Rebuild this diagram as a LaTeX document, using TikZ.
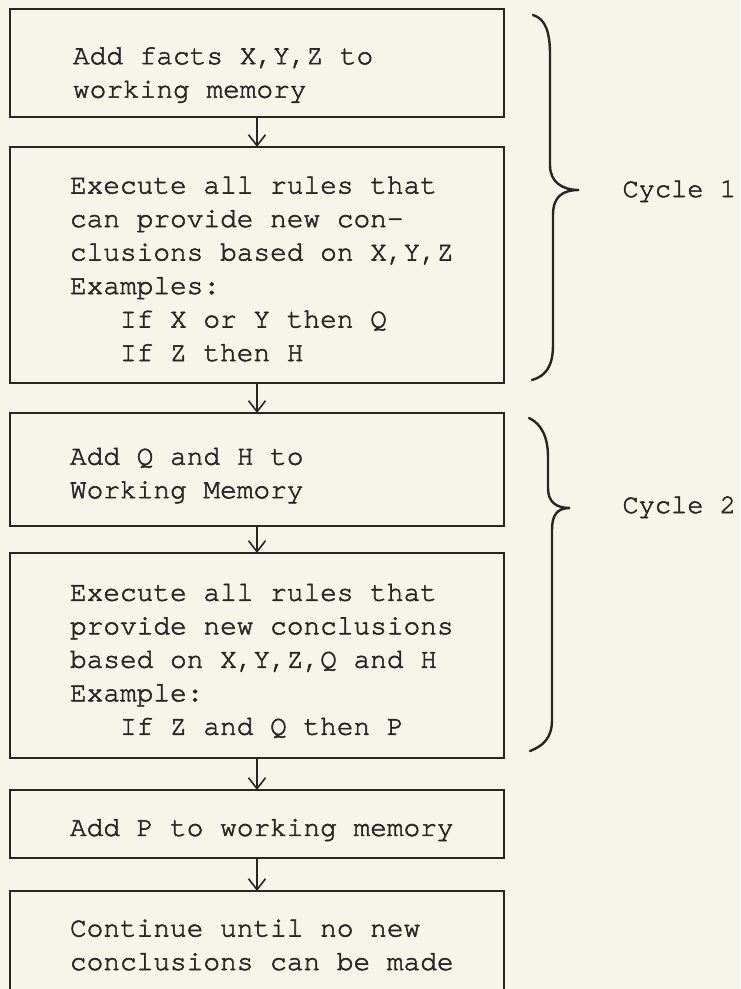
\documentclass[tikz,border=0pt]{standalone}
\usepackage{fontspec}
\setmainfont{TeX Gyre Cursor}[FakeBold=2]
\usetikzlibrary{arrows.meta}
\definecolor{paper}{HTML}{F6F5EA}
\definecolor{ink}{HTML}{262626}
\tikzset{
  stepbox/.style={draw=ink, line width=1.8pt, rectangle, outer sep=0pt, anchor=north west,
    minimum width=494pt, text width=400pt, inner xsep=47pt, inner ysep=0pt,
    align=flush left, text=ink, font=\fontsize{27.8}{33.5}\selectfont,
    execute at begin node={\leftskip=13pt\rule{0pt}{29pt}},
    execute at end node={\rule[-4.5pt]{0pt}{0pt}}},
  flow/.style={draw=ink, line width=1.6pt, -{Straight Barb[length=11pt,width=17pt]}},
  brace/.style={draw=ink, line width=2.4pt, line cap=round},
  cyclelabel/.style={anchor=base west, text=ink, font=\fontsize{27}{33}\selectfont}
}
\newcommand{\rulein}{\hspace*{1.8em}}

\begin{document}
\begin{tikzpicture}[x=1pt,y=-1pt]
% Page with the paper tint
\useasboundingbox (0,0) rectangle (740,989);
\fill[paper] (0,0) rectangle (740,989);
% Cycle 1: add facts, fire rules
\node[stepbox, minimum height=108pt,
  execute at begin node={\leftskip=16pt\rule{0pt}{41pt}}] (addxyz) at (10,9)
  {Add facts X,Y,Z to\\working memory};
\node[stepbox, minimum height=236pt] (fire1) at (10,147)
  {Execute all rules that\\can provide new con-\\clusions based on X,Y,Z\\Examples:\\
   \rulein If X or Y then Q\\\rulein If Z then H};
% Cycle 2: add Q and H, fire rules again
\node[stepbox, minimum height=113pt] (addqh) at (10,413)
  {Add Q and H to\\Working Memory};
\node[stepbox, minimum height=205pt] (fire2) at (10,553)
  {Execute all rules that\\provide new conclusions\\based on X,Y,Z,Q and H\\Example:\\
   \rulein If Z and Q then P};
% Last steps (bottom box runs off the page)
\node[stepbox, minimum height=68pt] (addp) at (10,790)
  {Add P to working memory};
\node[stepbox, minimum height=100pt] (done) at (10,891)
  {Continue until no new\\conclusions can be made};
% Arrows between the steps
\draw[flow] (addxyz) -- (fire1);
\draw[flow] (fire1) -- (addqh);
\draw[flow] (addqh) -- (fire2);
\draw[flow] (fire2) -- (addp);
\draw[flow] (addp) -- (done);
% Brace round cycle 1
\coordinate (tip1) at (579,190);
\draw[brace] (533,15) .. controls (546,19) and (550,33) .. (550,55) -- (550,165)
  .. controls (550,182) and (562,190) .. (tip1)
  .. controls (562,190) and (553,197) .. (553,215) -- (553,345)
  .. controls (553,366) and (546,376) .. (532,380);
\node[cyclelabel] (cyc1) at (619,197) {Cycle 1};
% Brace round cycle 2
\coordinate (tip2) at (570,508);
\draw[brace] (529,418) .. controls (542,424) and (548,438) .. (548,457) -- (548,488)
  .. controls (548,502) and (556,508) .. (tip2)
  .. controls (557,508) and (552,515) .. (552,530) -- (552,720)
  .. controls (552,738) and (543,746) .. (530,751);
\node[cyclelabel] (cyc2) at (619,513) {Cycle 2};
\end{tikzpicture}
\end{document}
